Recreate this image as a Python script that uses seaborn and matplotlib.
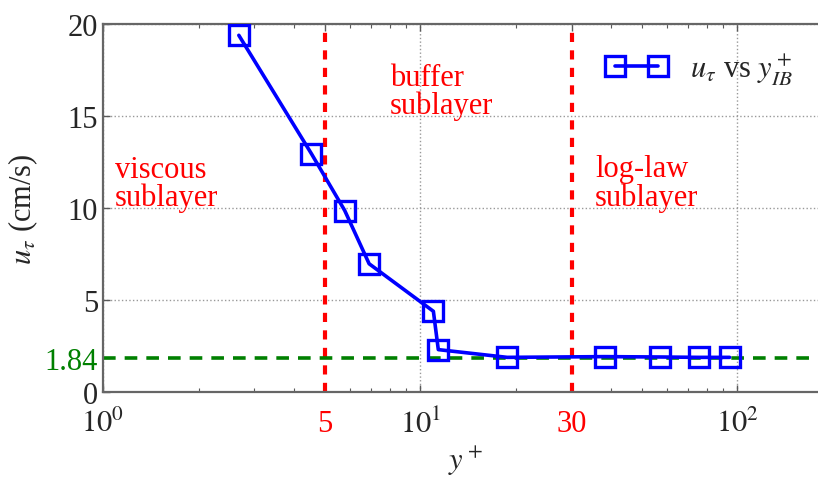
import numpy as np
import pandas as pd
import matplotlib
matplotlib.use('Agg')
import matplotlib.pyplot as plt
import seaborn as sns

# data
y_plus = [2.68, 4.54, 5.78, 6.90, 11.0, 11.4, 18.8, 38.1, 57.1, 75.5, 94.4]
u_tau = [19.36, 12.93, 9.85, 6.96, 4.38, 2.30, 1.88, 1.92, 1.90, 1.88, 1.88]
u_tau_ref = 1.84
bounds = [5, 30]
regions = ['viscous\nsublayer', 'buffer\nsublayer', 'log-law\nsublayer']
region_pos = [(1.09, 11.3), (8.03, 16.3), (35.6, 11.35)]
xticks = [1, 5, 10, 30, 100]
xticklabels = ['$10^{0}$', '5', '$10^{1}$', '30', '$10^{2}$']
yticks = [0, u_tau_ref, 5, 10, 15, 20]
yticklabels = ['0', '1.84', '5', '10', '15', '20']

df = pd.DataFrame({'y_plus': y_plus, 'u_tau': u_tau})

sns.set_style('ticks')
plt.rcParams['font.family'] = 'serif'
plt.rcParams['font.serif'] = ['Liberation Serif', 'DejaVu Serif']
plt.rcParams['mathtext.fontset'] = 'stix'

fig = plt.figure(figsize=(8.18, 4.81), dpi=100)
ax = fig.add_axes([103 / 818, 88 / 481, 730 / 818, 368.5 / 481])

# reference lines
for b in bounds:
    ax.axvline(b, color='red', ls=(0, (2.2, 2.0)), lw=3.0, zorder=2)
ax.axhline(u_tau_ref, color='green', ls=(0, (3.5, 2.5)), lw=2.6, zorder=2)

sns.lineplot(data=df, x='y_plus', y='u_tau', ax=ax, sort=False, color='blue',
             lw=2.6, marker='s', markersize=14, markerfacecolor='none',
             markeredgecolor='blue', markeredgewidth=2.4, zorder=3,
             label=r'$u_\tau$ vs $y^+_{IB}$')

ax.set_xscale('log')
ax.set_xlim(1, 200)
ax.set_ylim(0, 20)

ax.set_xticks(xticks)
ax.set_xticklabels(xticklabels)
ax.set_yticks(yticks)
ax.set_yticklabels(yticklabels)
for lab in ax.get_xticklabels():
    if lab.get_text() in ('5', '30'):
        lab.set_color('red')
for lab in ax.get_yticklabels():
    if lab.get_text() == '1.84':
        lab.set_color('green')

ax.tick_params(axis='x', which='major', pad=12)
ax.tick_params(axis='both', which='major', direction='in', top=True, right=True,
               length=5, width=1, labelsize=22, color='0.35')
ax.tick_params(axis='x', which='minor', direction='in', top=True, length=3,
               width=0.8, color='0.35')
ax.grid(True, which='major', ls=':', color='0.6', lw=1.0)
ax.set_axisbelow(True)
# no grid under the custom ticks (5, 30, 1.84)
xgl = ax.xaxis.get_gridlines()
xgl[1].set_visible(False)
xgl[3].set_visible(False)
ax.yaxis.get_gridlines()[1].set_visible(False)

for sp in ax.spines.values():
    sp.set_color('0.4')
    sp.set_linewidth(1.6)

for txt, (px, py) in zip(regions, region_pos):
    ax.text(px, py, txt, color='red', fontsize=22, ha='left', va='center',
            linespacing=0.95)

ax.set_xlabel('$y^+$', fontsize=22)
ax.xaxis.set_label_coords(0.497, -0.14)
ax.set_ylabel(r'$u_\tau$ (cm/s)', fontsize=22)
ax.yaxis.set_label_coords(-0.086, 0.5)

ax.legend(loc='center left', bbox_to_anchor=(606 / 818, 1 - 70 / 481),
          bbox_transform=fig.transFigure, frameon=False, fontsize=22,
          numpoints=2, handlelength=2.0, handletextpad=0.75, borderaxespad=0,
          borderpad=0)

fig.savefig('out.png', dpi=100)
